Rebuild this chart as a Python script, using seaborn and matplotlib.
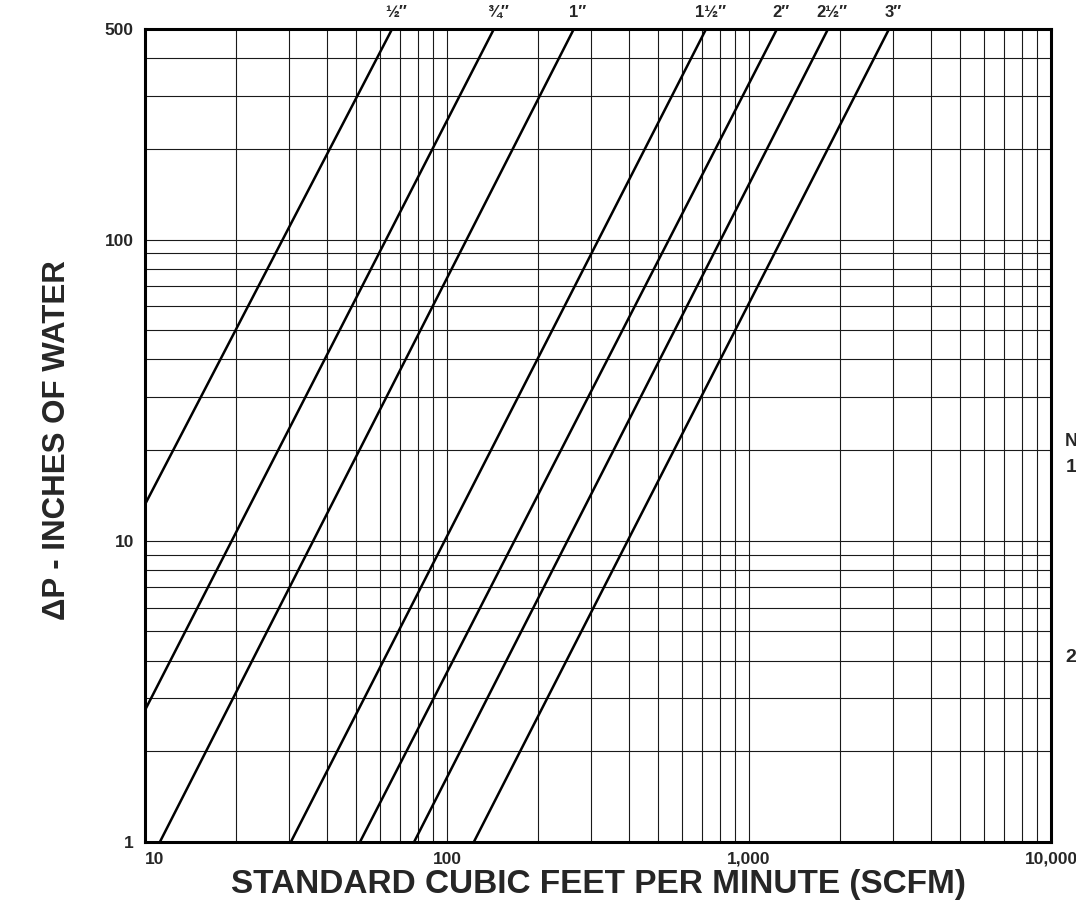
import numpy as np
import pandas as pd
import matplotlib
matplotlib.use("Agg")
import matplotlib.pyplot as plt
from matplotlib.ticker import NullFormatter, FixedLocator, FixedFormatter
import matplotlib.transforms as mtransforms
import seaborn as sns

# ---- data ----
sizes = ['½″', '¾″', '1″', '1½″', '2″', '2½″', '3″']
# start point (flow, dP) and end point (flow, dP) of each straight line
flow_start = [10.0, 10.0, 11.2, 30.4, 51.5, 77.8, 122.7]
dp_start = [13.2, 2.74, 1.0, 1.0, 1.0, 1.0, 1.0]
flow_end = [65.8, 143.0, 263.0, 721.0, 1238.0, 1827.0, 2909.0]
dp_end = [500.0, 500.0, 500.0, 500.0, 500.0, 500.0, 500.0]

x_ticks = [10, 100, 1000, 10000]
x_tick_labels = ['10', '100', '1,000', '10,000']
y_ticks = [1, 10, 100, 500]
y_tick_labels = ['1', '10', '100', '500']

rows = []
for s, q0, p0, q1, p1 in zip(sizes, flow_start, dp_start, flow_end, dp_end):
    rows.append({'size': s, 'scfm': q0, 'dp': p0})
    rows.append({'size': s, 'scfm': q1, 'dp': p1})
df = pd.DataFrame(rows)

sns.set_theme(style='white')
plt.rcParams['font.family'] = ['Liberation Sans Narrow', 'Liberation Sans', 'DejaVu Sans']
plt.rcParams['font.weight'] = 'bold'

fig = plt.figure(figsize=(10.76, 9.09), dpi=100)
W, H = 1076, 909
ax = fig.add_axes([145 / W, 1 - 842 / H, (1051 - 145) / W, (842 - 29) / H])

sns.lineplot(data=df, x='scfm', y='dp', hue='size', palette=['black'] * len(sizes),
             estimator=None, sort=False, legend=False, linewidth=1.8, ax=ax)

ax.set_xscale('log')
ax.set_yscale('log')
ax.set_xlim(10, 10000)
ax.set_ylim(1, 500)

# minor gridlines at 2..9 per decade
xminor = [m * 10 ** e for e in range(1, 4) for m in range(2, 10)]
yminor = [m * 10 ** e for e in range(0, 3) for m in range(2, 10) if m * 10 ** e < 500]
ax.xaxis.set_major_locator(FixedLocator(x_ticks))
ax.xaxis.set_major_formatter(FixedFormatter(x_tick_labels))
ax.yaxis.set_major_locator(FixedLocator(y_ticks))
ax.yaxis.set_major_formatter(FixedFormatter(y_tick_labels))
ax.xaxis.set_minor_locator(FixedLocator(xminor))
ax.yaxis.set_minor_locator(FixedLocator(yminor))
ax.xaxis.set_minor_formatter(NullFormatter())
ax.yaxis.set_minor_formatter(NullFormatter())
ax.grid(True, which='both', color='#1a1a1a', linewidth=0.8)
ax.tick_params(which='both', length=0)
ax.tick_params(axis='x', pad=7, labelsize=12.5)
ax.tick_params(axis='y', pad=8, labelsize=12.5)
for lab in ax.get_xticklabels() + ax.get_yticklabels():
    lab.set_fontweight('bold')
ax.get_xticklabels()[0].set_horizontalalignment('left')

for sp in ax.spines.values():
    sp.set_color('black')
    sp.set_linewidth(2.2)

ax.set_xlabel('STANDARD CUBIC FEET PER MINUTE (SCFM)', fontsize=24, fontweight='bold', labelpad=2)
ax.set_ylabel('ΔP - INCHES OF WATER', fontsize=22.5, fontweight='bold')
ax.yaxis.set_label_coords(-0.081, 0.495)

# pipe size labels above the top of each line
trans = mtransforms.blended_transform_factory(ax.transData, ax.transAxes)
offset = mtransforms.ScaledTranslation(4 / 100, 0, fig.dpi_scale_trans)
for s, q1 in zip(sizes, flow_end):
    ax.text(q1, 1.011, s, transform=trans + offset, ha='center', va='bottom',
            fontsize=12, fontweight='bold')

# partially visible annotations at right edge of the page
fig.text(1065 / W, 1 - 442 / H, 'N', fontsize=13, fontweight='bold', ha='left', va='center')
fig.text(1066 / W, 1 - 467 / H, '1', fontsize=14, fontweight='bold', ha='left', va='center')
fig.text(1065 / W, 1 - 658 / H, '2', fontsize=14, fontweight='bold', ha='left', va='center')

fig.savefig('out.png', dpi=100)
